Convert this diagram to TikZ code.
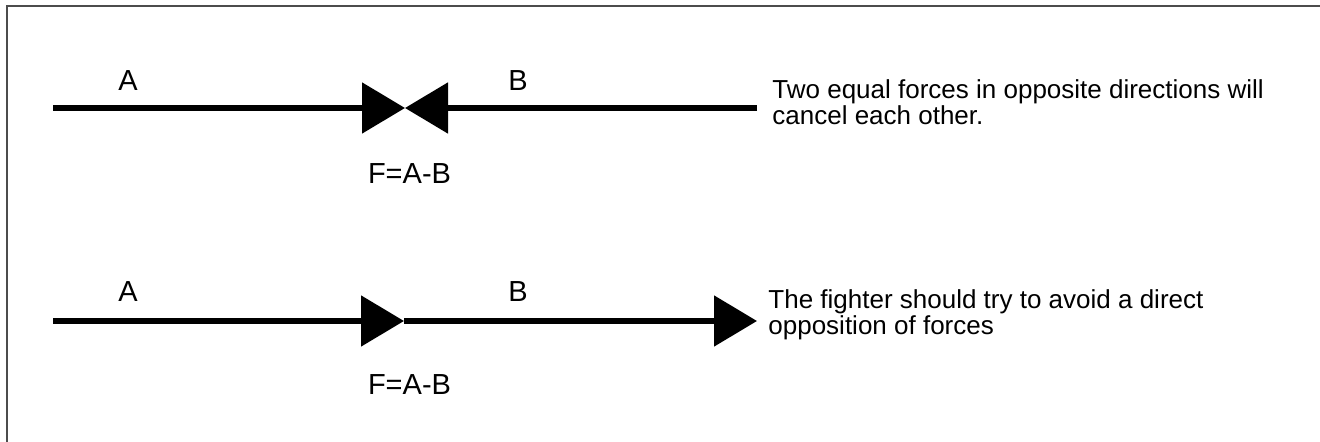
\documentclass[tikz,border=0pt]{standalone}
\usepackage{fontspec}
\setmainfont{Liberation Sans}
\usetikzlibrary{arrows.meta}
\begin{document}
\begin{tikzpicture}[x=0.5pt,y=-0.5pt,
        force/.style={line width=2.6pt,-{Triangle[length=21.5pt,width=25pt]}},
        lbl/.style={font=\fontsize{14.5}{14}\selectfont,inner sep=0pt},
        note/.style={font=\fontsize{13}{12.8}\selectfont,inner sep=0pt,align=left,anchor=west}]
            \useasboundingbox (0,0) rectangle (1320,442);
            \clip (0,0) rectangle (1320,442);
            \draw[line width=1pt,black!70] (7,6) rectangle (1340,460);

            % opposite directions
            \coordinate (a1) at (53,108);
            \coordinate (f1) at (405,108);
            \coordinate (b1) at (757,108);
            \draw[force] (a1) -- (f1);
            \draw[force] (b1) -- (f1);
            \node[lbl] (la1) at (128,81) {A};
            \node[lbl] (lb1) at (518,81) {B};
            \node[lbl] (lf1) at (409.5,173.5) {F=A-B};
            \node[note] (t1) at (772,102) {Two equal forces in opposite directions will\\cancel each other.};

            % same direction
            \coordinate (a2) at (53,321);
            \coordinate (f2) at (404,321);
            \coordinate (b2) at (757,321);
            \draw[force] (a2) -- (f2);
            \draw[force] (f2) -- (b2);
            \node[lbl] (la2) at (128,292) {A};
            \node[lbl] (lb2) at (518,292) {B};
            \node[lbl] (lf2) at (409.5,385) {F=A-B};
            \node[note] (t2) at (768,315) {The fighter should try to avoid a direct\\opposition of forces};
        \end{tikzpicture}
\end{document}
